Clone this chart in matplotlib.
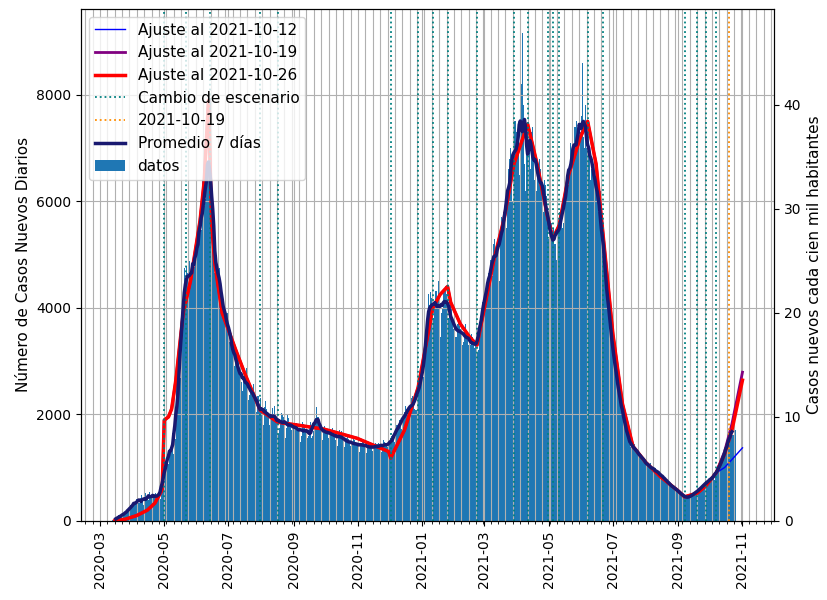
import matplotlib
matplotlib.use("Agg")
import matplotlib.pyplot as plt
import matplotlib.dates as mdates
import pandas as pd

# daily new cases, 2020-03-13 .. 2021-10-25 (one list per month)
cases_2020_03 = [13, 18, 14, 20, 46, 45, 104, 92, 96, 91,
                 118, 114, 156, 168, 190, 222, 172, 300, 240]
cases_2020_04 = [310, 300, 360, 370, 410, 300, 330, 420, 480, 430, 290, 290, 530, 400, 470,
                 390, 550, 460, 490, 380, 440, 490, 530, 420, 500, 470, 410, 540, 620, 830]
cases_2020_05 = [1050, 980, 1230, 1100, 1060, 1320, 1390, 1410, 1650, 1250, 1480, 1530, 2660,
                 2500, 2960, 2690, 2860, 4140, 4220, 4740, 4560, 4780, 4660, 3910, 4870, 4600,
                 4790, 4650, 5000, 4760, 5110]
cases_2020_06 = [4750, 5470, 5250, 5520, 5460, 6400, 5750, 5910, 6050, 6410, 6700, 6520,
                 7250, 7940, 6300, 5100, 4950, 4660, 4800, 5000, 4700, 4750, 4400, 4200, 4100,
                 4000, 3900, 3800, 3750, 3900]
cases_2020_07 = [3710, 3350, 3420, 3450, 3250, 3100, 2900, 3080, 2900, 3120, 2850, 2730, 2600,
                 2430, 2710, 2850, 2640, 2870, 2430, 2260, 2360, 2550, 2500, 2430, 2570, 2260,
                 2070, 2050, 2340, 2150, 2300]
cases_2020_08 = [2060, 1950, 1800, 2130, 2250, 2100, 2050, 2010, 1800, 1710, 2000, 2120, 2000,
                 2150, 1950, 1840, 1630, 1750, 1890, 2030, 1990, 1950, 1770, 1550, 1750, 1980,
                 1930, 1850, 1810, 1700, 1570]
cases_2020_09 = [1750, 1900, 1780, 1830, 1740, 1660, 1480, 1600, 1850, 1810, 1800, 1700, 1560,
                 1550, 1590, 1760, 1850, 1550, 1600, 1680, 2020, 1930, 2130, 1940, 1900, 1700,
                 1680, 1520, 1650, 1780]
cases_2020_10 = [1750, 1720, 1700, 1560, 1470, 1640, 1700, 1750, 1650, 1600, 1520, 1400, 1560,
                 1700, 1620, 1690, 1600, 1450, 1380, 1490, 1560, 1590, 1530, 1500, 1400, 1310,
                 1470, 1540, 1510, 1480, 1450]
cases_2020_11 = [1360, 1300, 1440, 1460, 1480, 1520, 1420, 1340, 1280, 1390, 1480, 1430, 1420,
                 1390, 1310, 1270, 1400, 1460, 1450, 1470, 1390, 1320, 1300, 1440, 1520, 1480,
                 1450, 1400, 1390, 1330]
cases_2020_12 = [1420, 1560, 1590, 1620, 1530, 1480, 1600, 1800, 1820, 1900, 1880, 1720, 1750,
                 1900, 2050, 2150, 2100, 2050, 1950, 2000, 2180, 2300, 2350, 2250, 2100, 2080,
                 2300, 2500, 2700, 2800, 2600]
cases_2021_01 = [2500, 2700, 3000, 3200, 3600, 3900, 4250, 4060, 4300, 4180, 3680, 3800, 4100,
                 4310, 4120, 4500, 3900, 3450, 3900, 4000, 4320, 4360, 4400, 4250, 3600, 3800,
                 4050, 4100, 4000, 3700, 3600]
cases_2021_02 = [3300, 3450, 3700, 3800, 3650, 3600, 3450, 3300, 3350, 3600, 3700, 3550, 3400,
                 3300, 3200, 3300, 3500, 3450, 3350, 3250, 3300, 3150, 3200, 3600, 3800, 3900,
                 4100, 4000]
cases_2021_03 = [3800, 4200, 4450, 4500, 4650, 4700, 4900, 4400, 4600, 5200, 5300, 5100, 5250,
                 4900, 4500, 5300, 5700, 5600, 5800, 5900, 5400, 5500, 6200, 6600, 6800, 7000,
                 6300, 6000, 7200, 7500, 7300]
cases_2021_04 = [7100, 7200, 6500, 6600, 8200, 9150, 7800, 6700, 6200, 7400, 7300, 7100, 6900,
                 6600, 7300, 7400, 7000, 6400, 6200, 6500, 6700, 6800, 6600, 6200, 5900, 5800,
                 6400, 6300, 6100, 5700]
cases_2021_05 = [5300, 5200, 5100, 5600, 5400, 5500, 5200, 4900, 5300, 5600, 5800, 5700, 5600,
                 5500, 5600, 6000, 6300, 6400, 6500, 6300, 6700, 7100, 6800, 6500, 6900, 7400,
                 7500, 7200, 7100, 6800, 7300]
cases_2021_06 = [7600, 8600, 7200, 7000, 7800, 7000, 6900, 7300, 7000, 6400, 6600, 6800, 6700,
                 6300, 6500, 6100, 5800, 5700, 6200, 5800, 5400, 4900, 4600, 4700, 4500, 4300,
                 3900, 3700, 3500, 3400]
cases_2021_07 = [3300, 3150, 2850, 2700, 2650, 2450, 2500, 2250, 2150, 2100, 1850, 1800, 1950,
                 1680, 1620, 1480, 1450, 1390, 1350, 1440, 1450, 1360, 1300, 1290, 1240, 1190,
                 1280, 1230, 1170, 1160, 1110]
cases_2021_08 = [1100, 1030, 1090, 1010, 1000, 1080, 970, 950, 920, 1000, 960, 910, 880, 920,
                 860, 850, 810, 840, 780, 790, 750, 740, 690, 690, 660, 670, 630, 620, 590, 615, 570]
cases_2021_09 = [560, 545, 520, 505, 470, 480, 440, 465, 430, 425, 455, 420, 470, 480, 505,
                 515, 500, 545, 555, 575, 580, 610, 615, 650, 655, 690, 690, 730, 735, 770]
cases_2021_10 = [730, 810, 790, 860, 770, 900, 880, 960, 1020, 940, 1080, 1050, 1200, 1170,
                 1290, 1400, 1310, 1480, 1560, 1490, 1700, 1790, 1620, 1850, 1700]

# fitted curves
fit_dates = ["2020-03-15", "2020-03-25", "2020-04-05", "2020-04-15", "2020-04-22", "2020-04-29",
             "2020-05-01", "2020-05-05", "2020-05-08", "2020-05-12", "2020-05-19", "2020-05-26",
             "2020-06-04", "2020-06-08", "2020-06-12", "2020-06-15", "2020-06-18", "2020-06-25",
             "2020-07-09", "2020-07-17", "2020-07-31", "2020-08-17", "2020-09-07", "2020-09-30",
             "2020-10-31", "2020-11-30", "2020-12-02", "2020-12-15", "2020-12-28", "2021-01-11",
             "2021-01-18", "2021-01-25", "2021-01-28", "2021-02-06", "2021-02-15", "2021-02-22",
             "2021-03-01", "2021-03-10", "2021-03-20", "2021-03-29", "2021-04-05", "2021-04-11",
             "2021-04-20", "2021-04-30", "2021-05-05", "2021-05-11", "2021-05-20", "2021-05-31",
             "2021-06-07", "2021-06-15", "2021-06-22", "2021-07-01", "2021-07-10", "2021-07-20",
             "2021-08-01", "2021-08-15", "2021-09-01", "2021-09-07", "2021-09-19", "2021-09-27",
             "2021-10-07"]
fit_values = [0, 30, 100, 200, 330, 580, 1890, 1950, 2100, 2640, 3900, 4510, 5640, 6390, 7900,
              5580, 4830, 3900, 3150, 2740, 2080, 1850, 1790, 1720, 1550, 1300, 1180, 1700, 2500,
              4000, 4250, 4400, 4100, 3700, 3450, 3300, 4000, 4900, 5700, 6700, 7100, 7450, 6700,
              5700, 5300, 5550, 6500, 7200, 7500, 6700, 5300, 3500, 2200, 1400, 1100, 830, 560,
              450, 520, 650, 900]
tail_dates = ["2021-10-15", "2021-10-22", "2021-11-01"]
tail_1012 = [1000, 1150, 1370]
tail_1019 = [1300, 1820, 2790]
tail_1026 = [1250, 1700, 2640]

escenario_dates = ["2020-05-01", "2020-05-22", "2020-06-13", "2020-07-31", "2020-08-17",
                   "2020-12-02", "2020-12-28", "2021-01-11", "2021-01-25", "2021-02-22",
                   "2021-03-29", "2021-04-11", "2021-04-30", "2021-05-05", "2021-05-11",
                   "2021-06-07", "2021-06-22", "2021-09-07", "2021-09-19", "2021-09-27",
                   "2021-10-07"]
marker_date = "2021-10-19"
poblacion = 19.53e6

cases = (cases_2020_03 + cases_2020_04 + cases_2020_05 + cases_2020_06 + cases_2020_07
         + cases_2020_08 + cases_2020_09 + cases_2020_10 + cases_2020_11 + cases_2020_12
         + cases_2021_01 + cases_2021_02 + cases_2021_03 + cases_2021_04 + cases_2021_05
         + cases_2021_06 + cases_2021_07 + cases_2021_08 + cases_2021_09 + cases_2021_10)
dates = pd.date_range("2020-03-13", "2021-10-25", freq="D")
serie = pd.Series(cases, index=dates)
prom7 = serie.rolling(7, center=True).mean()

fd = pd.to_datetime(fit_dates + tail_dates)

fig, ax = plt.subplots(figsize=(8.27, 6.0), dpi=100)
fig.subplots_adjust(left=0.098, right=0.936, top=0.985, bottom=0.132)

ax.bar(dates, serie.values, width=1.0, color="#1f77b4", label="datos")
ax.plot(fd, fit_values + tail_1012, color="blue", lw=1, label="Ajuste al 2021-10-12")
ax.plot(fd, fit_values + tail_1019, color="purple", lw=2, label="Ajuste al 2021-10-19")
ax.plot(fd, fit_values + tail_1026, color="red", lw=2.5, label="Ajuste al 2021-10-26")
for i, d in enumerate(escenario_dates):
    ax.axvline(pd.Timestamp(d), color="teal", ls=":", lw=1.3,
               label="Cambio de escenario" if i == 0 else None)
ax.axvline(pd.Timestamp(marker_date), color="darkorange", ls=":", lw=1.3, label="2021-10-19")
ax.plot(prom7.index, prom7.values, color="midnightblue", lw=2.5, label="Promedio 7 días")

ax.set_xlim(pd.Timestamp("2020-02-12"), pd.Timestamp("2021-12-01"))
ymax = 9610
ax.set_ylim(0, ymax)
ax.xaxis.set_major_locator(mdates.MonthLocator(bymonth=[1, 3, 5, 7, 9, 11]))
ax.xaxis.set_major_formatter(mdates.DateFormatter("%Y-%m"))
ax.xaxis.set_minor_locator(mdates.WeekdayLocator(byweekday=mdates.SU))
ax.grid(True, which="both", color="#b0b0b0", lw=0.8)
plt.setp(ax.get_xticklabels(), rotation=90)
ax.set_ylabel("Número de Casos Nuevos Diarios", fontsize=11)
ax.legend(loc="upper left", fontsize=11)

ax2 = ax.twinx()
ax2.set_ylim(0, ymax / (poblacion / 1e5))
ax2.set_ylabel("Casos nuevos cada cien mil habitantes", fontsize=11)

fig.savefig("out.png", dpi=100)
